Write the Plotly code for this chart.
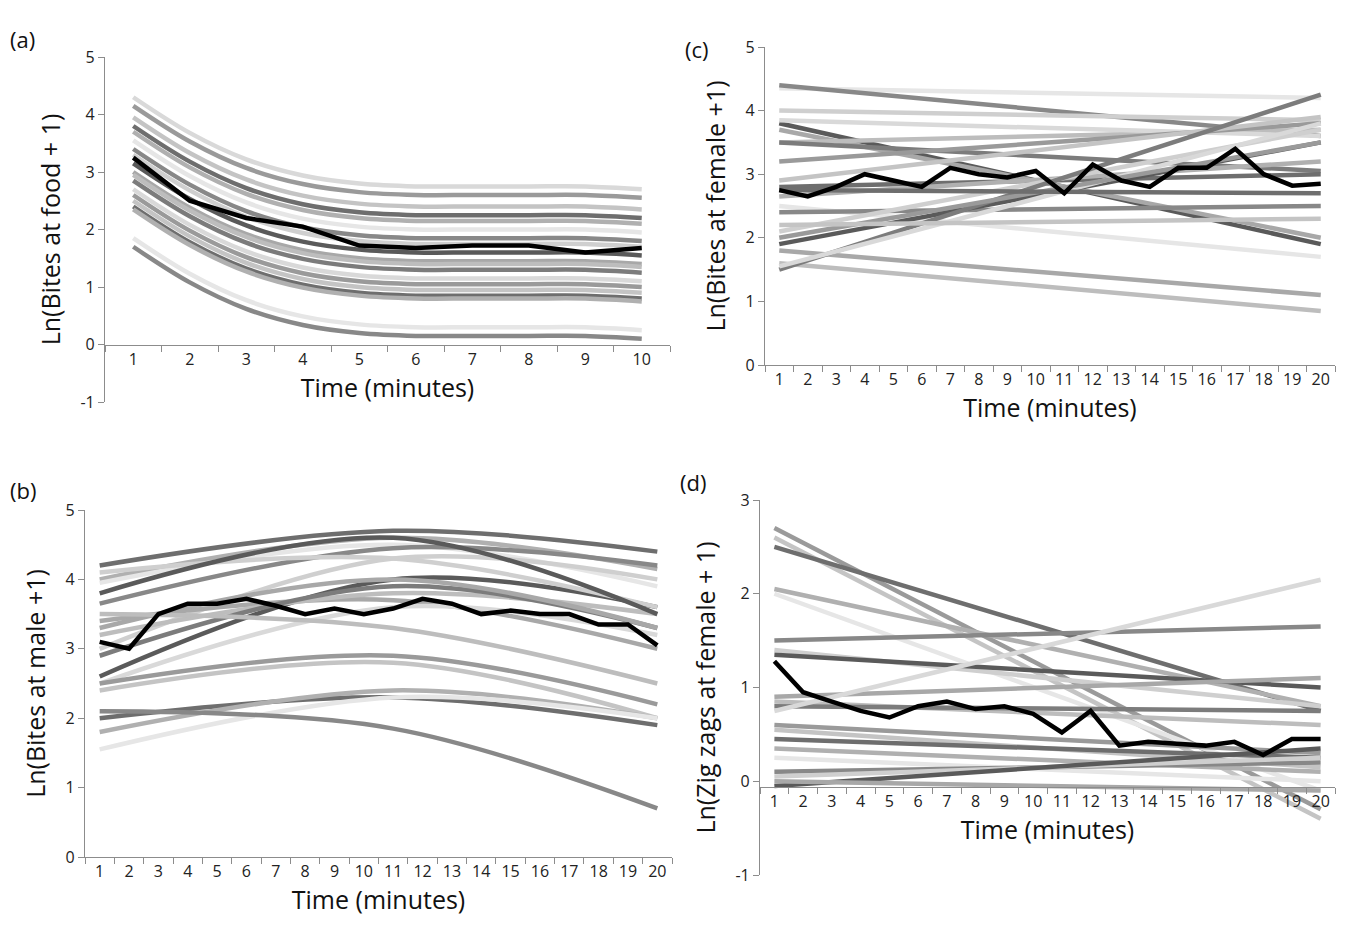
import plotly.graph_objects as go

# ---------- data ----------
xa = [str(i) for i in range(1, 11)]
xb = [str(i) for i in range(1, 21)]

# (a) parallel fitted curves: start value and common decline profile
a_starts = [4.3, 4.15, 3.95, 3.8, 3.7, 3.55, 3.4, 3.3, 3.15, 3.0, 2.95, 2.85, 2.7, 2.6, 2.5, 2.4, 2.35, 1.85, 1.7]
a_drop = [0, 0.62, 1.08, 1.36, 1.5, 1.55, 1.55, 1.55, 1.55, 1.6]
a_mean = [3.25, 2.5, 2.2, 2.05, 1.72, 1.68, 1.72, 1.72, 1.6, 1.68]

# (b) curves: value at minute 1, 11, 20
b_lines = [(4.2, 4.7, 4.4), (4.0, 4.6, 4.15), (3.95, 4.5, 3.9), (3.65, 4.45, 4.2), (3.0, 4.3, 4.0),
           (2.6, 4.0, 3.6), (3.4, 3.7, 3.0), (3.2, 3.8, 3.5), (2.9, 3.9, 3.3), (2.5, 3.6, 3.2),
           (2.5, 2.9, 2.2), (2.4, 2.8, 2.0), (2.0, 2.3, 1.9), (1.8, 2.4, 2.0), (1.55, 2.3, 2.0),
           (2.1, 1.85, 0.7), (4.1, 4.3, 3.6), (3.8, 4.6, 3.5), (3.3, 4.0, 3.3), (3.5, 3.3, 2.5)]
b_mean = [3.1, 3.0, 3.5, 3.65, 3.65, 3.72, 3.62, 3.5, 3.58, 3.5, 3.58, 3.72, 3.65, 3.5, 3.55, 3.5, 3.5, 3.35, 3.35, 3.05]

# (c) straight lines: value at minute 1 and 20
c_lines = [(4.35, 4.2), (4.4, 3.6), (4.0, 3.85), (3.8, 1.9), (3.7, 2.0), (3.5, 3.7), (3.5, 3.05),
           (3.85, 3.6), (3.2, 3.8), (2.9, 3.9), (2.8, 3.0), (2.65, 3.2), (2.5, 1.7), (2.4, 2.5),
           (2.1, 3.7), (1.9, 3.5), (1.8, 1.1), (1.6, 0.85), (1.5, 4.25), (1.55, 3.8), (2.0, 3.5),
           (2.2, 2.3), (2.75, 2.7)]
c_mean = [2.75, 2.65, 2.8, 3.0, 2.9, 2.8, 3.1, 3.0, 2.95, 3.05, 2.7, 3.15, 2.9, 2.8, 3.1, 3.1, 3.4, 3.0, 2.82, 2.85]

# (d) straight lines: value at minute 1 and 20
d_lines = [(2.7, -0.3), (2.6, -0.4), (2.5, 0.75), (2.05, 0.8), (2.0, -0.1), (1.5, 1.65), (1.4, 0.8),
           (1.35, 1.0), (0.9, 1.1), (0.85, 0.6), (0.8, 0.75), (0.75, 2.15), (0.6, 0.3), (0.55, 0.15),
           (0.45, 0.25), (0.35, 0.1), (0.25, 0.0), (0.1, 0.2), (0.05, 0.25), (-0.05, 0.35), (0.0, -0.1)]
d_mean = [1.28, 0.95, 0.85, 0.75, 0.68, 0.8, 0.85, 0.77, 0.8, 0.72, 0.52, 0.75, 0.38, 0.42, 0.4, 0.38, 0.42, 0.28, 0.45, 0.45]

y_ticks_a = [-1, 0, 1, 2, 3, 4, 5]
y_ticks_b = [0, 1, 2, 3, 4, 5]
y_ticks_d = [-1, 0, 1, 2, 3]

grays = ["#d9d9d9", "#9a9a9a", "#c4c4c4", "#6e6e6e", "#b0b0b0", "#e6e6e6", "#888888",
         "#cfcfcf", "#5a5a5a", "#a8a8a8", "#bdbdbd", "#7c7c7c"]

fig = go.Figure()
W = 4.5
OFF = 8  # page offset in px

def gray(i):
    return grays[i % len(grays)]

def px_x(a, b):
    return [(a - OFF) / 1368, (b - OFF) / 1368]

def px_y(top, bottom):
    return [1 - (bottom - OFF) / 939, 1 - (top - OFF) / 939]

for i, s in enumerate(a_starts):
    fig.add_trace(go.Scatter(x=xa, y=[s - d for d in a_drop], mode="lines", line=dict(color=gray(i), width=W, shape="spline"), xaxis="x", yaxis="y"))
fig.add_trace(go.Scatter(x=xa, y=a_mean, mode="lines", line=dict(color="black", width=W), xaxis="x", yaxis="y"))
for i, (s, m, e) in enumerate(b_lines):
    fig.add_trace(go.Scatter(x=["1", "11", "20"], y=[s, m, e], mode="lines", line=dict(color=gray(i + 3), width=W, shape="spline"), xaxis="x2", yaxis="y2"))
fig.add_trace(go.Scatter(x=xb, y=b_mean, mode="lines", line=dict(color="black", width=W), xaxis="x2", yaxis="y2"))
for i, (s, e) in enumerate(c_lines):
    fig.add_trace(go.Scatter(x=["1", "20"], y=[s, e], mode="lines", line=dict(color=gray(i + 5), width=W), xaxis="x3", yaxis="y3"))
fig.add_trace(go.Scatter(x=xb, y=c_mean, mode="lines", line=dict(color="black", width=W), xaxis="x3", yaxis="y3"))
for i, (s, e) in enumerate(d_lines):
    fig.add_trace(go.Scatter(x=["1", "20"], y=[s, e], mode="lines", line=dict(color=gray(i + 1), width=W), xaxis="x4", yaxis="y4"))
fig.add_trace(go.Scatter(x=xb, y=d_mean, mode="lines", line=dict(color="black", width=W), xaxis="x4", yaxis="y4"))

tickf = dict(size=16, color="#222")
titlef = dict(size=25, color="#111")
axc = "#8c8c8c"

def xax(dom, cats, anchor, pos=None, title="Time (minutes)"):
    d = dict(domain=dom, type="category", categoryorder="array", categoryarray=cats,
             range=[-0.5, len(cats) - 0.5], tickson="boundaries", ticks="outside", ticklen=6,
             tickcolor=axc, showline=True, linecolor=axc, linewidth=1.2, showgrid=False,
             automargin=False, tickfont=tickf, title=dict(text=title, font=titlef, standoff=6))
    if pos is None:
        d["anchor"] = anchor
    else:
        d["anchor"] = "free"
        d["position"] = pos
    return d

def yax(dom, ticks, anchor, title):
    return dict(domain=dom, range=[ticks[0], ticks[-1]], tickmode="array", tickvals=ticks,
                ticktext=[str(t) for t in ticks], anchor=anchor,
                ticks="outside", ticklen=6, tickcolor=axc, showline=True, linecolor=axc,
                linewidth=1.2, showgrid=False, zeroline=False, automargin=False, tickfont=tickf,
                title=dict(text=title, font=titlef, standoff=12))

def lab(t, x, y):
    return dict(text=t, x=(x - OFF) / 1368, y=1 - (y - OFF) / 939, xref="paper", yref="paper",
                showarrow=False, font=dict(size=22, color="#111"), xanchor="left")

fig.update_layout(
    width=1368, height=939, showlegend=False, plot_bgcolor="white", paper_bgcolor="white",
    margin=dict(l=0, r=0, t=0, b=0), font=dict(family="Open Sans"),
    xaxis=xax(px_x(105, 670), xa, "y", pos=1 - (345 - OFF) / 939),
    yaxis=yax(px_y(57, 402), y_ticks_a, "x", "Ln(Bites at food + 1)"),
    xaxis2=xax(px_x(85, 672), xb, "y2"),
    yaxis2=yax(px_y(510, 857), y_ticks_b, "x2", "Ln(Bites at male +1)"),
    xaxis3=xax(px_x(765, 1335), xb, "y3"),
    yaxis3=yax(px_y(47, 365), y_ticks_b, "x3", "Ln(Bites at female +1)"),
    xaxis4=xax(px_x(760, 1335), xb, "y4", pos=1 - (787 - OFF) / 939),
    yaxis4=yax(px_y(500, 875), y_ticks_d, "x4", "Ln(Zig zags at female + 1)"),
    annotations=[lab("(a)", 8, 22), lab("(c)", 683, 32), lab("(b)", 8, 490), lab("(d)", 678, 482)],
)
fig.write_html("out.html")
